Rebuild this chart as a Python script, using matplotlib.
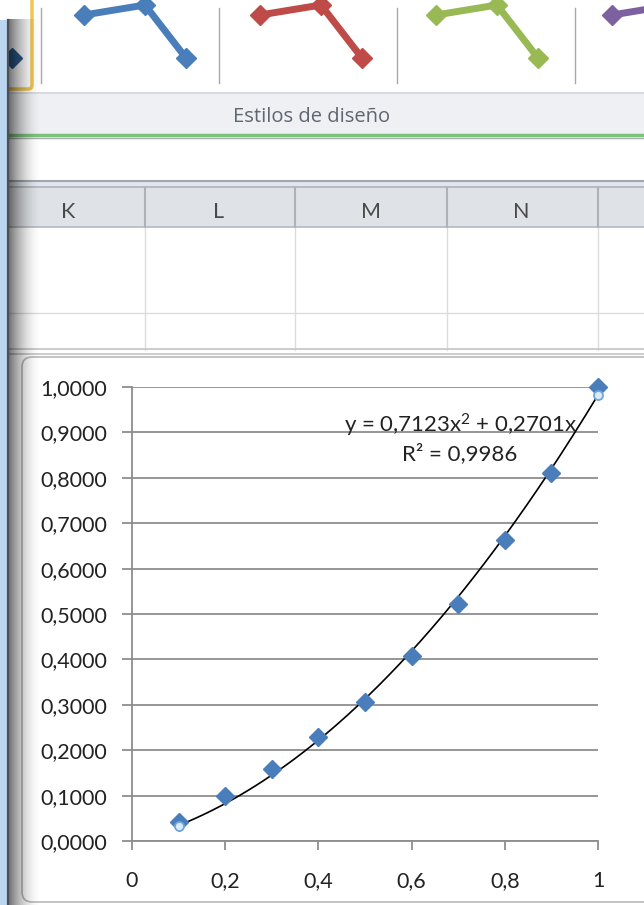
import numpy as np
import matplotlib.pyplot as plt
from matplotlib.patches import Rectangle, FancyBboxPatch
from matplotlib.ticker import FuncFormatter, MultipleLocator

plt.rcParams['font.family'] = ['Lato', 'DejaVu Sans']
plt.rcParams['mathtext.fontset'] = 'custom'
plt.rcParams['mathtext.rm'] = 'Lato'
plt.rcParams['mathtext.it'] = 'Lato'

# measured points
x_vals = [0.1, 0.2, 0.3, 0.4, 0.5, 0.6, 0.7, 0.8, 0.9, 1.0]
y_vals = [0.042, 0.100, 0.158, 0.229, 0.306, 0.407, 0.523, 0.663, 0.811, 1.000]

# polynomial trendline (order 2, intercept 0)
coef_a = 0.7123
coef_b = 0.2701
r_squared = 0.9986

columns = ['K', 'L', 'M', 'N']
column_centers = [68, 219, 371, 521]
column_edges = [145, 295, 447, 598]

style_colors = ['#4a7ebb', '#be4b48', '#98b954', '#7d60a0']
style_offsets = [0, 176, 352, 528]

W, H = 644, 905
fig = plt.figure(figsize=(W / 100, H / 100), dpi=100)

# ---- spreadsheet window behind the chart (pixel coordinates) ----
bg = fig.add_axes([0, 0, 1, 1], zorder=0)
bg.set_xlim(0, W)
bg.set_ylim(H, 0)
bg.axis('off')

# ribbon gallery of chart styles
for col, dx in zip(style_colors, style_offsets):
    bg.plot([84 + dx, 145 + dx, 186 + dx], [15, 5, 58], color=col, lw=5,
            marker='D', ms=10, solid_capstyle='round')
for sx in [41, 219, 397, 575]:
    bg.plot([sx, sx], [8, 83], color='#a8a8a8', lw=1)
bg.add_patch(FancyBboxPatch((-10, -10), 42, 99, boxstyle='round,pad=0,rounding_size=4',
                            fc='white', ec='#efc650', lw=2.5))
bg.plot([12], [58], marker='D', ms=10, color='#2f5d8f')

# group label band
bg.add_patch(Rectangle((0, 93), W, 41, fc='#eef0f3', ec='none'))
bg.plot([0, W], [93, 93], color='#d2d5d9', lw=1.2)
bg.text(312, 117, 'Estilos de diseño', ha='center', va='center',
        fontsize=14.5, color='#5f6670', family=['Open Sans', 'DejaVu Sans'])
bg.plot([0, W], [135.5, 135.5], color='#7cc27a', lw=2.5)
bg.plot([0, W], [138.5, 138.5], color='#a9adb1', lw=1)

# formula bar separators
bg.plot([0, W], [181, 181], color='#a3a7ab', lw=1.5)
bg.add_patch(Rectangle((0, 182), W, 4, fc='#dfe6ef', ec='none'))
bg.plot([0, W], [187, 187], color='#a9adb1', lw=1.2)

# column headers
bg.add_patch(Rectangle((0, 188), W, 39, fc='#dfe2e6', ec='none'))
bg.plot([0, W], [227.5, 227.5], color='#b5b9bd', lw=1.2)
for ex in column_edges:
    bg.plot([ex, ex], [188, 227], color='#aeb2b6', lw=1.5)
    bg.plot([ex, ex], [228, 350], color='#dcdcdc', lw=1)
for name, cx in zip(columns, column_centers):
    bg.text(cx, 212, name, ha='center', va='center', fontsize=15.5, color='#4a4a4a')
bg.plot([0, W], [313, 313], color='#dcdcdc', lw=1)
bg.plot([0, W], [349, 349], color='#c4c4c4', lw=1.2)
bg.plot([0, W], [354, 354], color='#c4c4c4', lw=1.2)

# chart area
bg.add_patch(FancyBboxPatch((22, 357), 640, 545, boxstyle='round,pad=0,rounding_size=10',
                            fc='white', ec='#b9b9b9', lw=1.2))

# window edge and its shadow
bg.add_patch(Rectangle((0, 20), 8, H - 20, fc='#bcd6ef', ec='none', zorder=5))
bg.plot([8, 8], [20, H], color='#4c5157', lw=1.6, zorder=6)
shade = np.zeros((1, 64, 4))
shade[0, :, 3] = 0.55 * (1 - np.linspace(0, 1, 64)) ** 1.8
bg.imshow(shade, extent=(9, 42, H, 20), aspect='auto', zorder=5, interpolation='bilinear')
bg.set_xlim(0, W)
bg.set_ylim(H, 0)

# ---- chart ----
ax = fig.add_axes([132 / W, 1 - 841 / H, 466 / W, 454 / H], zorder=1)
ax.patch.set_alpha(0)

xs = np.linspace(x_vals[0], x_vals[-1], 200)
ax.plot(xs, coef_a * xs ** 2 + coef_b * xs, color='black', lw=1.2, zorder=3)
ax.plot(x_vals, y_vals, linestyle='none', marker='D', ms=9.5, color='#4a7ebb',
        zorder=4, clip_on=False)
ends = [x_vals[0], x_vals[-1]]
ax.plot(ends, [coef_a * v ** 2 + coef_b * v for v in ends], linestyle='none', marker='o',
        ms=6.5, mfc='#dceaf7', mec='#6fa6d8', mew=1.3, zorder=5, clip_on=False)

ax.set_xlim(0, 1)
ax.set_ylim(0, 1)
ax.yaxis.set_major_locator(MultipleLocator(0.1))
ax.xaxis.set_major_locator(MultipleLocator(0.2))
ax.yaxis.set_major_formatter(FuncFormatter(lambda v, p: f'{v:.4f}'.replace('.', ',')))
ax.xaxis.set_major_formatter(FuncFormatter(lambda v, p: f'{v:g}'.replace('.', ',')))
ax.grid(axis='y', color='#8e8e8e', lw=1.3)
ax.set_axisbelow(True)
for side in ['top', 'right']:
    ax.spines[side].set_visible(False)
for side in ['left', 'bottom']:
    ax.spines[side].set_color('#8e8e8e')
    ax.spines[side].set_linewidth(1.3)
ax.tick_params(axis='y', length=7, width=1.3, color='#8e8e8e', pad=11, labelsize=15.5, labelcolor='#222222')
ax.tick_params(axis='x', length=6.5, width=1.3, color='#8e8e8e', pad=15, labelsize=15.5, labelcolor='#222222')

eq_text = f'y = {coef_a:.4f}x$^{{2}}$ + {coef_b:.4f}x'.replace('.', ',')
ax.text(0.704, 0.899, eq_text, ha='center', va='baseline', fontsize=16, color='#222222')
ax.text(0.704, 0.838, f'R² = {r_squared:.4f}'.replace('.', ','),
        ha='center', va='baseline', fontsize=16, color='#222222')

fig.savefig('out.png', dpi=100)
